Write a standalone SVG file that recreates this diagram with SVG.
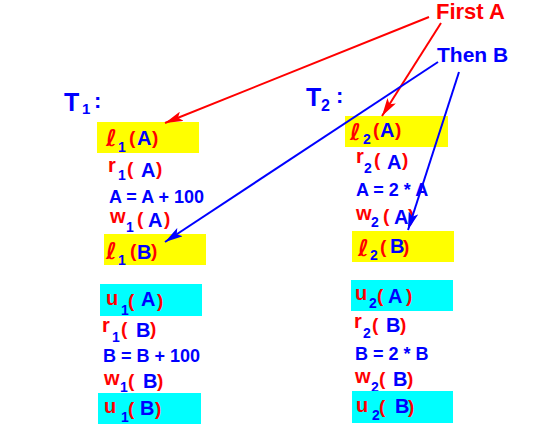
<svg xmlns="http://www.w3.org/2000/svg" width="544" height="425" viewBox="0 0 544 425">
<style>
text{font-family:"Liberation Sans",Arial,sans-serif;font-weight:bold}
.r{fill:#ff0000}
.b{fill:#0000ff}
.m{font-size:20px}
.p{font-size:19px}
.s{font-size:14px}
.e{font-size:18px;fill:#0000ff}
.l{font-family:"DejaVu Sans",sans-serif;font-style:italic;font-size:23px;fill:#ff0000}
.y{fill:#ffff00}
.c{fill:#00ffff}
.ar{stroke:#ff0000;stroke-width:2;fill:none}
.ab{stroke:#0000ff;stroke-width:2;fill:none}
</style>
<defs>
<marker id="hr" viewBox="0 0 18 10" refX="18" refY="5" markerWidth="18" markerHeight="10" markerUnits="userSpaceOnUse" orient="auto"><path d="M0,0 L18,5 L0,10 L4,5 Z" fill="#ff0000"/></marker>
<marker id="hb" viewBox="0 0 18 10" refX="18" refY="5" markerWidth="18" markerHeight="10" markerUnits="userSpaceOnUse" orient="auto"><path d="M0,0 L18,5 L0,10 L4,5 Z" fill="#0000ff"/></marker>
</defs>
<rect width="544" height="425" fill="#ffffff"/>

<g id="labels">
<text x="436" y="19" class="r" font-size="22">First A</text>
<text x="437" y="62" class="b" font-size="21">Then B</text>
<text x="64" y="111" class="b" font-size="25">T</text><text x="82" y="114" class="b" font-size="15">1</text><text x="94" y="108" class="b" font-size="22">:</text>
<text x="306" y="106" class="b" font-size="25">T</text><text x="321" y="111" class="b" font-size="16">2</text><text x="336" y="103" class="b" font-size="22">:</text>
</g>

<g id="l1A">
<rect class="y" x="97" y="122" width="102" height="31"/>
<text class="l" x="106" y="146">ℓ</text><text class="b s" x="118" y="152">1</text><text class="r p" x="129" y="144">(</text><text class="b m" x="137" y="145">A</text><text class="r p" x="152" y="144">)</text>
</g>
<g id="r1A">
<text class="r m" x="108" y="172">r</text><text class="b s" x="118" y="180">1</text><text class="r p" x="127" y="175">(</text><text class="b m" x="141" y="177">A</text><text class="r p" x="156" y="175">)</text>
</g>
<g id="eq1A"><text class="e" x="109" y="203">A = A + 100</text></g>
<g id="w1A">
<text class="r m" x="110" y="223">w</text><text class="b s" x="126" y="232">1</text><text class="r p" x="137" y="225">(</text><text class="b m" x="148" y="227">A</text><text class="r p" x="164" y="225">)</text>
</g>
<g id="l1B">
<rect class="y" x="104" y="234" width="102" height="31"/>
<text class="l" x="106" y="259">ℓ</text><text class="b s" x="118" y="265">1</text><text class="r p" x="130" y="257">(</text><text class="b m" x="137" y="259">B</text><text class="r p" x="151" y="257">)</text>
</g>

<g id="l2A">
<rect class="y" x="345" y="116" width="103" height="31"/>
<text class="l" x="350" y="140">ℓ</text><text class="b s" x="363" y="144">2</text><text class="r p" x="373" y="136">(</text><text class="b m" x="380" y="137">A</text><text class="r p" x="395" y="136">)</text>
</g>
<g id="r2A">
<text class="r m" x="356" y="163">r</text><text class="b s" x="364" y="173">2</text><text class="r p" x="374" y="166">(</text><text class="b m" x="387" y="169">A</text><text class="r p" x="402" y="166">)</text>
</g>
<g id="eq2A"><text class="e" x="356" y="196">A = 2 * A</text></g>
<g id="w2A">
<text class="r m" x="356" y="220">w</text><text class="b s" x="371" y="227">2</text><text class="r p" x="383" y="222">(</text><text class="b m" x="394" y="224">A</text><text class="r p" x="408" y="222">)</text>
</g>
<g id="l2B">
<rect class="y" x="352" y="231" width="102" height="31"/>
<text class="l" x="358" y="256">ℓ</text><text class="b s" x="370" y="260">2</text><text class="r p" x="380" y="253">(</text><text class="b m" x="390" y="253">B</text><text class="r p" x="403" y="253">)</text>
</g>

<g id="u1A">
<rect class="c" x="100" y="284" width="102" height="32"/>
<text class="r m" x="106" y="305">u</text><text class="b s" x="121" y="315">1</text><text class="r p" x="128" y="307">(</text><text class="b m" x="141" y="306">A</text><text class="r p" x="157" y="307">)</text>
</g>
<g id="r1B">
<text class="r m" x="102" y="332">r</text><text class="b s" x="112" y="342">1</text><text class="r p" x="121" y="335">(</text><text class="b m" x="136" y="337">B</text><text class="r p" x="150" y="335">)</text>
</g>
<g id="eq1B"><text class="e" x="103" y="362">B = B + 100</text></g>
<g id="w1B">
<text class="r m" x="104" y="385">w</text><text class="b s" x="120" y="392">1</text><text class="r p" x="128" y="387">(</text><text class="b m" x="143" y="388">B</text><text class="r p" x="157" y="387">)</text>
</g>
<g id="u1B">
<rect class="c" x="98" y="393" width="103" height="31"/>
<text class="r m" x="104" y="413">u</text><text class="b s" x="121" y="422">1</text><text class="r p" x="128" y="415">(</text><text class="b m" x="140" y="415">B</text><text class="r p" x="155" y="415">)</text>
</g>

<g id="u2A">
<rect class="c" x="351" y="280" width="102" height="31"/>
<text class="r m" x="355" y="300">u</text><text class="b s" x="369" y="308">2</text><text class="r p" x="377" y="302">(</text><text class="b m" x="388" y="303">A</text><text class="r p" x="406" y="302">)</text>
</g>
<g id="r2B">
<text class="r m" x="354" y="328">r</text><text class="b s" x="363" y="338">2</text><text class="r p" x="372" y="331">(</text><text class="b m" x="386" y="332">B</text><text class="r p" x="400" y="331">)</text>
</g>
<g id="eq2B"><text class="e" x="355" y="360">B = 2 * B</text></g>
<g id="w2B">
<text class="r m" x="355" y="383">w</text><text class="b s" x="371" y="392">2</text><text class="r p" x="379" y="385">(</text><text class="b m" x="393" y="386">B</text><text class="r p" x="407" y="385">)</text>
</g>
<g id="u2B">
<rect class="c" x="352" y="391" width="101" height="32"/>
<text class="r m" x="356" y="412">u</text><text class="b s" x="372" y="420">2</text><text class="r p" x="379" y="413">(</text><text class="b m" x="395" y="413">B</text><text class="r p" x="408" y="413">)</text>
</g>

<g id="connectors">
<line class="ar" x1="429" y1="17" x2="165" y2="123" marker-end="url(#hr)"/>
<line class="ar" x1="441" y1="23" x2="382" y2="116" marker-end="url(#hr)"/>
<line class="ab" x1="438" y1="62" x2="165" y2="242" marker-end="url(#hb)"/>
<line class="ab" x1="459" y1="72" x2="408" y2="230" marker-end="url(#hb)"/>
</g>
</svg>
